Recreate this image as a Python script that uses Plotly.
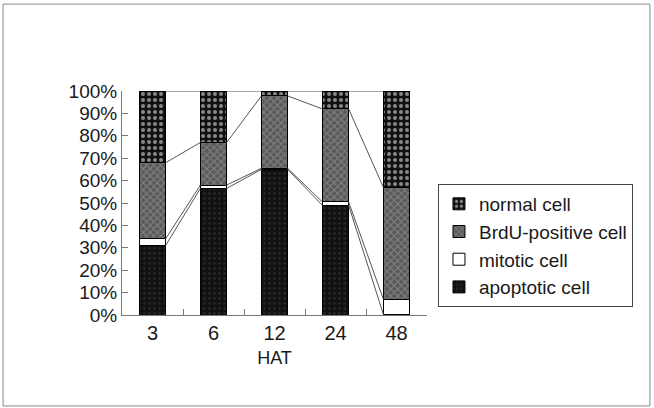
import plotly.graph_objects as go

categories = ["3", "6", "12", "24", "48"]
apoptotic = [31, 56.5, 65, 49, 0.3]
mitotic = [3, 1.5, 0.5, 1.5, 6.7]
brdu = [34, 19, 32.3, 41.5, 50]
normal = [32, 23, 2.2, 8, 43]

series = [
    ("apoptotic cell", apoptotic, "#111111", "#3a3a3a", ".", 5, 0.25),
    ("mitotic cell", mitotic, "#ffffff", "#ffffff", "", 5, 0.3),
    ("BrdU-positive cell", brdu, "#5a5a5a", "#b0b0b0", "x", 5, 0.35),
    ("normal cell", normal, "#111111", "#ffffff", ".", 6, 0.35),
]

bar_w = 0.43
font = "Liberation Sans, Arial, sans-serif"

fig = go.Figure()
for name, vals, bg, fg, shape, sz, sol in series:
    fig.add_trace(go.Bar(
        x=categories, y=vals, name=name, width=bar_w, legendgroup=name,
        marker=dict(color=bg, line=dict(color="#000000", width=1),
                    pattern=dict(shape=shape, bgcolor=bg, fgcolor=fg, size=sz, solidity=sol)),
    ))

# series lines connecting cumulative boundaries
cum = [0.0] * len(categories)
for name, vals, *_ in series:
    cum = [c + v for c, v in zip(cum, vals)]
    xs, ys = [], []
    for i in range(len(categories) - 1):
        xs += [i + bar_w / 2, i + 1 - bar_w / 2, None]
        ys += [cum[i], cum[i + 1], None]
    fig.add_trace(go.Scatter(x=xs, y=ys, xaxis="x2", mode="lines",
                             line=dict(color="#555555", width=1), showlegend=False,
                             hoverinfo="skip"))

fig.update_layout(
    barmode="stack",
    width=654, height=408,
    margin=dict(l=122, r=227, t=91, b=93),
    paper_bgcolor="white", plot_bgcolor="white",
    font=dict(family=font, size=19, color="#1a1a1a"),
    xaxis=dict(type="category", range=[-0.5, 4.5], tickson="boundaries",
               ticks="inside", ticklen=6, tickcolor="#777", showline=True,
               linecolor="#777", linewidth=1, showgrid=False,
               title=dict(text="HAT", font=dict(size=18), standoff=8),
               tickfont=dict(size=20)),
    xaxis2=dict(overlaying="x", range=[-0.5, 4.5], visible=False),
    yaxis=dict(range=[0, 100], dtick=10, ticksuffix="%", ticks="inside",
               ticklen=6, tickcolor="#777", showline=True, linecolor="#777",
               linewidth=1, showgrid=False, zeroline=False,
               tickfont=dict(size=19)),
    legend=dict(x=1.036, xanchor="left", y=0.585, yanchor="top",
                traceorder="reversed", tracegroupgap=4,
                bordercolor="#444", borderwidth=1,
                font=dict(size=19), bgcolor="white"),
    shapes=[dict(type="rect", xref="paper", yref="paper", x0=-0.390, x1=1.731,
                 y0=-0.406, y1=1.388, line=dict(color="#888", width=1))],
)

fig.write_html("out.html")
